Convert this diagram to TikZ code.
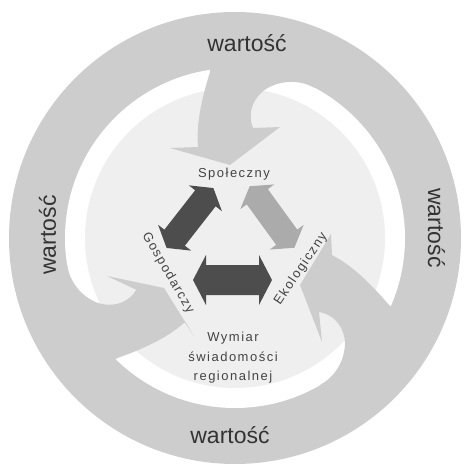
\documentclass[tikz,border=0pt]{standalone}
\usepackage{fontspec}
\setmainfont{Liberation Sans}
\newfontfamily\spc[LetterSpace=11.5]{Liberation Sans}
\definecolor{ringgray}{HTML}{CDCDCD}
\definecolor{discgray}{HTML}{EFEFEF}
\definecolor{darkarrow}{HTML}{4D4D4D}
\definecolor{midarrow}{HTML}{ABABAB}
\definecolor{txtdark}{HTML}{333333}
\definecolor{txtin}{HTML}{444444}
\begin{document}
\begin{tikzpicture}[x=1pt,y=-1pt,
  wlab/.style={inner sep=0pt, text=txtdark, font=\fontsize{23}{26}\selectfont},
  inlab/.style={inner sep=0pt, text=txtin, font=\spc\fontsize{13}{19.5}\selectfont, align=center},
  swoosh/.style={fill=ringgray},
  dbarrow/.style={fill=darkarrow},
  lbarrow/.style={fill=midarrow}]
\useasboundingbox (0,0) rectangle (464,468);
\coordinate (C) at (235,238);
% ring and discs
\fill[ringgray] (C) circle[radius=226pt];
\fill[white] (C) circle[radius=170pt];
\fill[discgray] (C) circle[radius=150pt];
% top swoosh arrow
\begin{scope}[shift={(C)}]
  \fill[swoosh] (-22,-205) -- (-25,-166)
    .. controls (-33,-140) and (-39,-115) .. (-37,-91)
    -- (-65,-90) -- (-5,-73) -- (45,-111) -- (18,-110)
    .. controls (13,-122) and (16,-136) .. (27,-146)
    .. controls (36,-154) and (58,-162) .. (80,-150)
    -- (95,-188) -- cycle;
\end{scope}
% right swoosh arrow
\fill[swoosh] (420.5,328) -- (389,305)
  .. controls (371,284) and (353,266) .. (332,255)
  -- (331,234) -- (300,285) -- (322,342) -- (319,312)
  .. controls (332,314) and (342,324) .. (344.5,338)
  .. controls (346.5,350) and (341.7,373) .. (320,385)
  -- (344,418) -- cycle;
% left swoosh arrow
\fill[swoosh] (84.4,379) -- (117.4,358)
  .. controls (143,349) and (166.6,338.4) .. (184.6,322.4)
  -- (194,336) -- (164,288) -- (107,276) -- (136.3,289.8)
  .. controls (129.7,301) and (116.7,307) .. (102,304)
  .. controls (90.3,302) and (70.7,289) .. (67,264.4)
  -- (27.6,275.3) -- cycle;
% inner double arrows
\begin{scope}[shift={(232.5,280)}]
  \fill[dbarrow] (-39.5,0) -- (-26.5,-25) -- (-26.5,-15) -- (26.5,-15) -- (26.5,-25)
    -- (39.5,0) -- (26.5,25) -- (26.5,15) -- (-26.5,15) -- (-26.5,25) -- cycle;
\end{scope}
\begin{scope}[shift={(190,218)}, rotate=52]
  \fill[dbarrow] (-38,0) -- (-25,-21) -- (-25,-13) -- (25,-13) -- (25,-21)
    -- (38,0) -- (25,21) -- (25,13) -- (-25,13) -- (-25,21) -- cycle;
\end{scope}
\begin{scope}[shift={(272,217)}, rotate=-54]
  \fill[lbarrow] (-38,0) -- (-25,-21) -- (-25,-13) -- (25,-13) -- (25,-21)
    -- (38,0) -- (25,21) -- (25,13) -- (-25,13) -- (-25,21) -- cycle;
\end{scope}
% labels
\node[wlab] (wtop) at (247,43) {wartość};
\node[wlab] (wbot) at (230,435) {wartość};
\node[wlab, rotate=90] (wleft) at (47.5,235) {wartość};
\node[wlab, rotate=-90] (wright) at (436.5,228) {wartość};
\node[inlab] (spol) at (234,174) {Społeczny};
\node[inlab, rotate=-60] (gosp) at (168,273) {Gospodarczy};
\node[inlab, rotate=56] (ekol) at (301,269) {Ekologiczny};
\node[inlab] (wym) at (233,358) {Wymiar\\świadomości\\regionalnej};
\end{tikzpicture}
\end{document}
